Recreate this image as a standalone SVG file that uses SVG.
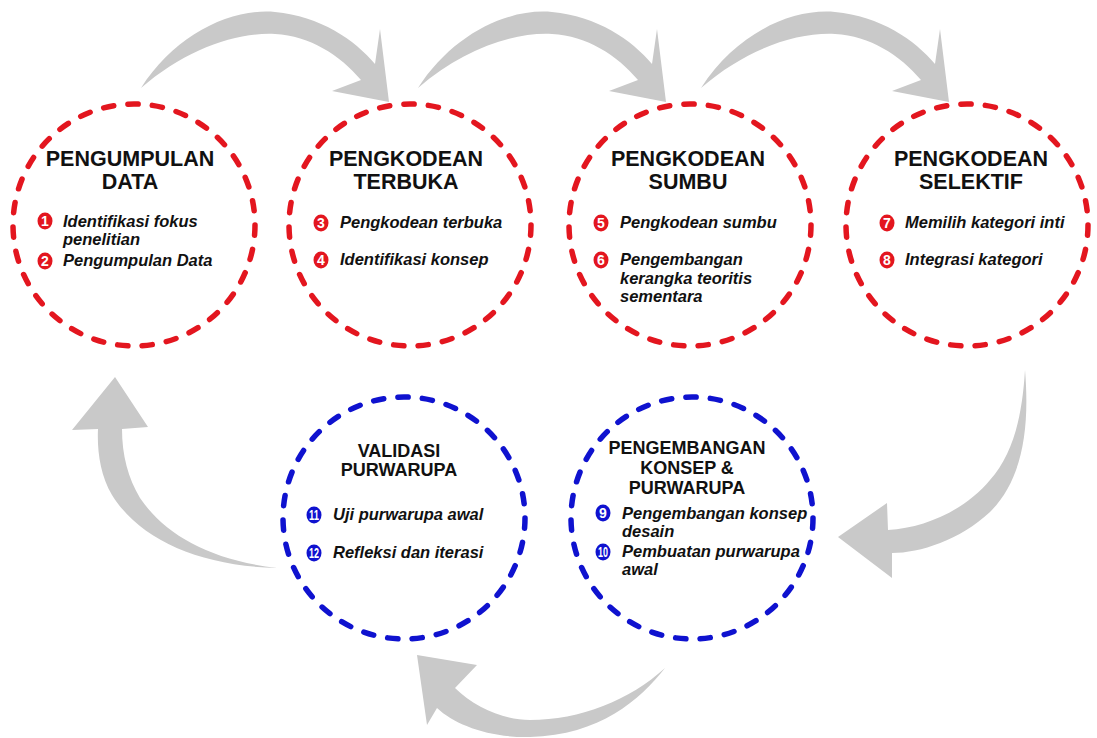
<svg xmlns="http://www.w3.org/2000/svg" width="1097" height="738" viewBox="0 0 1097 738">
  <style>
    .ring { fill: none; stroke-width: 5.5; stroke-linecap: round; stroke-dasharray: 0.42 0.58; }
    .red { stroke: #e3161f; }
    .blue { stroke: #0f12cf; }
    .title { font-family: "Liberation Sans", Arial, sans-serif; font-weight: bold; font-size: 21.5px; fill: #111; text-anchor: middle; }
    .title-sm { font-family: "Liberation Sans", Arial, sans-serif; font-weight: bold; font-size: 18px; fill: #111; text-anchor: middle; }
    .item { font-family: "Liberation Sans", Arial, sans-serif; font-weight: bold; font-style: italic; font-size: 16.5px; fill: #111; }
    .badge-r { fill: #e3161f; }
    .badge-b { fill: #0f12cf; }
    .num { font-family: "Liberation Sans", Arial, sans-serif; font-weight: bold; font-size: 14px; fill: #fff; text-anchor: middle; }
    .flow { fill: #c9c9c9; }
  </style>

  <rect width="1097" height="738" fill="#ffffff"/>

  <!-- curved flow arrows -->
  <g id="connectors">
    <path id="arrow-1-2" class="flow" d="M141,88 C175,35 230,8 275,12 C320,16 355,40 375,64 L380,29 L389,102 L332,91 L361,80 C340,55 310,36 275,34 C235,32 185,50 141,88 Z"/>
    <path id="arrow-2-3" class="flow" transform="translate(277,0)" d="M141,88 C175,35 230,8 275,12 C320,16 355,40 375,64 L380,29 L389,102 L332,91 L361,80 C340,55 310,36 275,34 C235,32 185,50 141,88 Z"/>
    <path id="arrow-3-4" class="flow" transform="translate(560,0)" d="M141,88 C175,35 230,8 275,12 C320,16 355,40 375,64 L380,29 L389,102 L332,91 L361,80 C340,55 310,36 275,34 C235,32 185,50 141,88 Z"/>
    <path id="arrow-4-5" class="flow" d="M1025,370 C1030,430 1022,480 990,512 C960,540 920,553 892,553 L892,578 L838,537 L887,503 L888,530 C925,528 965,510 990,480 C1012,455 1022,420 1025,370 Z"/>
    <path id="arrow-5-6" class="flow" d="M665,668 C640,700 600,735 530,737 C490,738 455,725 437,708 L427,725 L417,655 L477,665 L455,688 C475,708 505,720 530,720 C580,720 630,700 665,668 Z"/>
    <path id="arrow-6-1" class="flow" d="M277,568 C200,566 140,540 112,495 C100,475 97,450 98,429 L72,430 L115,377 L148,427 L122,429 C122,455 128,478 140,498 C165,535 210,560 277,568 Z"/>
  </g>

  <!-- Pengumpulan Data -->
  <g id="node-pengumpulan">
    <circle class="ring red" cx="134" cy="225" r="121" pathLength="31"/>
    <text class="title" x="130" y="166">PENGUMPULAN</text>
    <text class="title" x="130" y="189">DATA</text>
    <ellipse class="badge-r" cx="45" cy="221" rx="7.5" ry="8.5"/>
    <text class="num" x="45" y="226">1</text>
    <text class="item" x="63" y="227">Identifikasi fokus</text>
    <text class="item" x="63" y="245">penelitian</text>
    <ellipse class="badge-r" cx="45" cy="261" rx="7.5" ry="8.5"/>
    <text class="num" x="45" y="266">2</text>
    <text class="item" x="63" y="266">Pengumpulan Data</text>
  </g>

  <!-- Pengkodean Terbuka -->
  <g id="node-terbuka">
    <circle class="ring red" cx="410" cy="225" r="121" pathLength="31"/>
    <text class="title" x="406" y="166">PENGKODEAN</text>
    <text class="title" x="406" y="189">TERBUKA</text>
    <ellipse class="badge-r" cx="321" cy="223" rx="7.5" ry="8.5"/>
    <text class="num" x="321" y="228">3</text>
    <text class="item" x="340" y="228">Pengkodean terbuka</text>
    <ellipse class="badge-r" cx="321" cy="260" rx="7.5" ry="8.5"/>
    <text class="num" x="321" y="265">4</text>
    <text class="item" x="340" y="265">Identifikasi konsep</text>
  </g>

  <!-- Pengkodean Sumbu -->
  <g id="node-sumbu">
    <circle class="ring red" cx="690" cy="225" r="121" pathLength="31"/>
    <text class="title" x="688" y="166">PENGKODEAN</text>
    <text class="title" x="688" y="189">SUMBU</text>
    <ellipse class="badge-r" cx="601" cy="223" rx="7.5" ry="8.5"/>
    <text class="num" x="601" y="228">5</text>
    <text class="item" x="620" y="228">Pengkodean sumbu</text>
    <ellipse class="badge-r" cx="601" cy="260" rx="7.5" ry="8.5"/>
    <text class="num" x="601" y="265">6</text>
    <text class="item" x="620" y="265">Pengembangan</text>
    <text class="item" x="620" y="284">kerangka teoritis</text>
    <text class="item" x="620" y="302">sementara</text>
  </g>

  <!-- Pengkodean Selektif -->
  <g id="node-selektif">
    <circle class="ring red" cx="967" cy="225" r="121" pathLength="31"/>
    <text class="title" x="971" y="166">PENGKODEAN</text>
    <text class="title" x="971" y="189">SELEKTIF</text>
    <ellipse class="badge-r" cx="887" cy="223" rx="7.5" ry="8.5"/>
    <text class="num" x="887" y="228">7</text>
    <text class="item" x="905" y="228">Memilih kategori inti</text>
    <ellipse class="badge-r" cx="887" cy="260" rx="7.5" ry="8.5"/>
    <text class="num" x="887" y="265">8</text>
    <text class="item" x="905" y="265">Integrasi kategori</text>
  </g>

  <!-- Pengembangan Konsep & Purwarupa -->
  <g id="node-pengembangan">
    <circle class="ring blue" cx="692" cy="518" r="121" pathLength="31"/>
    <text class="title-sm" x="687" y="454">PENGEMBANGAN</text>
    <text class="title-sm" x="687" y="474">KONSEP &amp;</text>
    <text class="title-sm" x="687" y="494">PURWARUPA</text>
    <ellipse class="badge-b" cx="603" cy="513" rx="7.5" ry="8.5"/>
    <text class="num" x="603" y="518">9</text>
    <text class="item" x="622" y="519">Pengembangan konsep</text>
    <text class="item" x="622" y="537">desain</text>
    <ellipse class="badge-b" cx="603" cy="552" rx="7.5" ry="8.5"/>
    <text class="num" x="603" y="557" textLength="10" lengthAdjust="spacingAndGlyphs">10</text>
    <text class="item" x="622" y="557">Pembuatan purwarupa</text>
    <text class="item" x="622" y="575">awal</text>
  </g>

  <!-- Validasi Purwarupa -->
  <g id="node-validasi">
    <circle class="ring blue" cx="404" cy="518" r="121" pathLength="31"/>
    <text class="title-sm" x="399" y="457">VALIDASI</text>
    <text class="title-sm" x="399" y="476">PURWARUPA</text>
    <ellipse class="badge-b" cx="314" cy="515" rx="7.5" ry="8.5"/>
    <text class="num" x="314" y="520" textLength="10" lengthAdjust="spacingAndGlyphs">11</text>
    <text class="item" x="333" y="520">Uji purwarupa awal</text>
    <ellipse class="badge-b" cx="314" cy="553" rx="7.5" ry="8.5"/>
    <text class="num" x="314" y="558" textLength="10" lengthAdjust="spacingAndGlyphs">12</text>
    <text class="item" x="333" y="558">Refleksi dan iterasi</text>
  </g>
</svg>
